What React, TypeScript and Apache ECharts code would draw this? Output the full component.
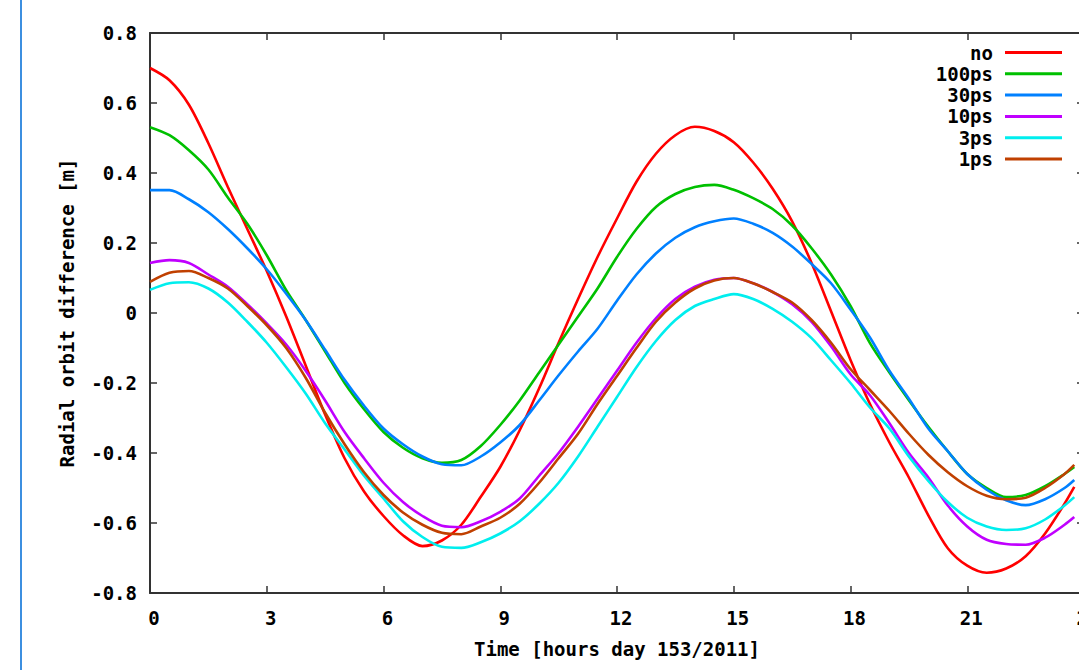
import React, { useEffect, useRef } from "react";
import * as echarts from "echarts";

const hours = [
  0, 0.5, 1, 1.5, 2, 2.5, 3, 3.5, 4, 4.5, 5, 5.5, 6, 6.5, 7, 7.5, 8, 8.5, 9, 9.5, 10, 10.5, 11, 11.5,
  12, 12.5, 13, 13.5, 14, 14.5, 15, 15.5, 16, 16.5, 17, 17.5, 18, 18.5, 19, 19.5, 20, 20.5, 21, 21.5,
  22, 22.5, 23, 23.5, 23.75,
];

const seriesNames = ["no", "100ps", "30ps", "10ps", "3ps", "1ps"];
const seriesColors = ["#ff0000", "#00c000", "#0080ff", "#c000ff", "#00eeee", "#c04000"];

const noVals = [
  0.70, 0.665, 0.595, 0.485, 0.36, 0.24, 0.12, -0.01, -0.15, -0.29, -0.415, -0.51, -0.58, -0.635, -0.666, -0.65,
  -0.605, -0.525, -0.44, -0.335, -0.215, -0.085, 0.04, 0.16, 0.27, 0.375, 0.455, 0.508, 0.532, 0.52, 0.488, 0.43,
  0.355, 0.262, 0.143, 0.005, -0.134, -0.26, -0.37, -0.47, -0.578, -0.672, -0.722, -0.742, -0.73, -0.695, -0.63, -0.545,
  -0.497,
];
const ps100Vals = [
  0.531, 0.508, 0.465, 0.41, 0.33, 0.255, 0.165, 0.065, -0.02, -0.11, -0.20, -0.275, -0.34, -0.385, -0.415, -0.428,
  -0.42, -0.38, -0.32, -0.25, -0.17, -0.09, -0.01, 0.07, 0.16, 0.24, 0.303, 0.34, 0.36, 0.366, 0.352, 0.328,
  0.297, 0.25, 0.185, 0.11, 0.02, -0.086, -0.17, -0.249, -0.325, -0.395, -0.46, -0.50, -0.526, -0.52, -0.495, -0.46,
  -0.44,
];
const ps30Vals = [
  0.351, 0.351, 0.325, 0.288, 0.24, 0.185, 0.125, 0.055, -0.02, -0.105, -0.191, -0.265, -0.33, -0.375, -0.41, -0.432,
  -0.435, -0.41, -0.37, -0.32, -0.25, -0.178, -0.11, -0.045, 0.035, 0.11, 0.17, 0.215, 0.245, 0.262, 0.27, 0.255,
  0.229, 0.19, 0.14, 0.085, 0.01, -0.07, -0.165, -0.245, -0.33, -0.395, -0.46, -0.505, -0.535, -0.549, -0.532, -0.50,
  -0.477,
];
const ps10Vals = [
  0.143, 0.151, 0.143, 0.11, 0.075, 0.025, -0.03, -0.09, -0.165, -0.25, -0.34, -0.415, -0.485, -0.54, -0.58, -0.608,
  -0.612, -0.595, -0.568, -0.53, -0.465, -0.40, -0.325, -0.245, -0.165, -0.085, -0.015, 0.04, 0.075, 0.095, 0.10, 0.085,
  0.06, 0.025, -0.025, -0.095, -0.175, -0.235, -0.315, -0.40, -0.47, -0.55, -0.61, -0.648, -0.66, -0.662, -0.642, -0.605,
  -0.583,
];
const ps3Vals = [
  0.066, 0.085, 0.088, 0.07, 0.03, -0.025, -0.085, -0.155, -0.23, -0.315, -0.39, -0.465, -0.53, -0.595, -0.64, -0.668,
  -0.671, -0.655, -0.63, -0.595, -0.545, -0.485, -0.41, -0.325, -0.24, -0.155, -0.08, -0.02, 0.02, 0.04, 0.054, 0.04,
  0.012, -0.025, -0.072, -0.135, -0.20, -0.27, -0.33, -0.41, -0.48, -0.54, -0.585, -0.61, -0.62, -0.615, -0.59, -0.55,
  -0.526,
];
const ps1Vals = [
  0.089, 0.115, 0.12, 0.10, 0.07, 0.02, -0.035, -0.10, -0.185, -0.285, -0.375, -0.455, -0.52, -0.57, -0.605, -0.628,
  -0.632, -0.61, -0.585, -0.545, -0.485, -0.415, -0.345, -0.26, -0.18, -0.10, -0.025, 0.03, 0.07, 0.093, 0.10, 0.085,
  0.06, 0.03, -0.02, -0.085, -0.16, -0.22, -0.28, -0.345, -0.405, -0.455, -0.495, -0.522, -0.532, -0.528, -0.50, -0.46,
  -0.434,
];

const allVals = [noVals, ps100Vals, ps30Vals, ps10Vals, ps3Vals, ps1Vals];

const xTicks = [0, 3, 6, 9, 12, 15, 18, 21, 24];

const FONT = "DejaVu Sans Mono";

export default function App() {
  const ref = useRef<HTMLDivElement>(null);
  useEffect(() => {
    if (!ref.current) return;
    const chart = echarts.init(ref.current, null, { renderer: "svg" });
    const txt = { fontFamily: FONT, fontWeight: "bold" as const, fontSize: 19, color: "#000" };
    const axisLine = { show: true, onZero: false, lineStyle: { color: "#333", width: 2 } };
    const tick = { show: true, inside: true, length: 7, lineStyle: { color: "#333", width: 1.5 } };
    const option = {
      animation: false,
      backgroundColor: "#fff",
      grid: {
        left: 150,
        top: 33,
        width: 934,
        height: 560,
        containLabel: false,
        outerBoundsMode: "none",
      },
      legend: {
        orient: "vertical",
        right: 12,
        top: 38,
        align: "right",
        icon: "rect",
        itemWidth: 57,
        itemHeight: 3,
        itemGap: 2.3,
        data: seriesNames,
        textStyle: { ...txt, width: 80, align: "right", lineHeight: 14, padding: [0, 7, 0, 0] },
      },
      xAxis: [
        {
          type: "value",
          min: 0,
          max: 24,
          interval: 3,
          position: "bottom",
          axisLine,
          axisTick: tick,
          splitLine: { show: false },
          axisLabel: {
            ...txt,
            margin: 15,
            padding: [0, 0, 0, 8],
            formatter: (v: number) => (xTicks.includes(v) ? String(v) : ""),
          },
          name: "Time [hours day 153/2011]",
          nameLocation: "middle",
          nameGap: 46,
          nameTextStyle: txt,
        },
        {
          type: "value",
          min: 0,
          max: 24,
          interval: 3,
          position: "top",
          axisLine,
          axisTick: tick,
          splitLine: { show: false },
          axisLabel: { show: false },
        },
      ],
      yAxis: [
        {
          type: "value",
          min: -0.8,
          max: 0.8,
          interval: 0.2,
          position: "left",
          axisLine,
          axisTick: tick,
          splitLine: { show: false },
          axisLabel: {
            ...txt,
            margin: 13,
            formatter: (v: number) => (Math.abs(v) < 1e-9 ? "0" : v.toFixed(1)),
          },
          name: "Radial orbit difference [m]",
          nameLocation: "middle",
          nameGap: 74,
          nameTextStyle: txt,
        },
        {
          type: "value",
          min: -0.8,
          max: 0.8,
          interval: 0.2,
          position: "right",
          axisLine,
          axisTick: tick,
          splitLine: { show: false },
          axisLabel: { show: false },
        },
      ],
      graphic: [
        {
          type: "line",
          shape: { x1: 21, y1: 0, x2: 21, y2: 670 },
          style: { stroke: "#3c8fe0", lineWidth: 2 },
          silent: true,
        },
      ],
      series: seriesNames.map((name, i) => ({
        name,
        type: "line",
        xAxisIndex: 0,
        yAxisIndex: 0,
        data: hours.map((h, j) => [h, allVals[i][j]]),
        smooth: 0.3,
        symbol: "none",
        lineStyle: { color: seriesColors[i], width: 2.6 },
        itemStyle: { color: seriesColors[i] },
      })),
    };
    chart.setOption(option as any);
    return () => chart.dispose();
  }, []);
  return (
    <div
      ref={ref}
      style={{ position: "absolute", left: 0, top: 0, width: 1079, height: 670 }}
    />
  );
}
